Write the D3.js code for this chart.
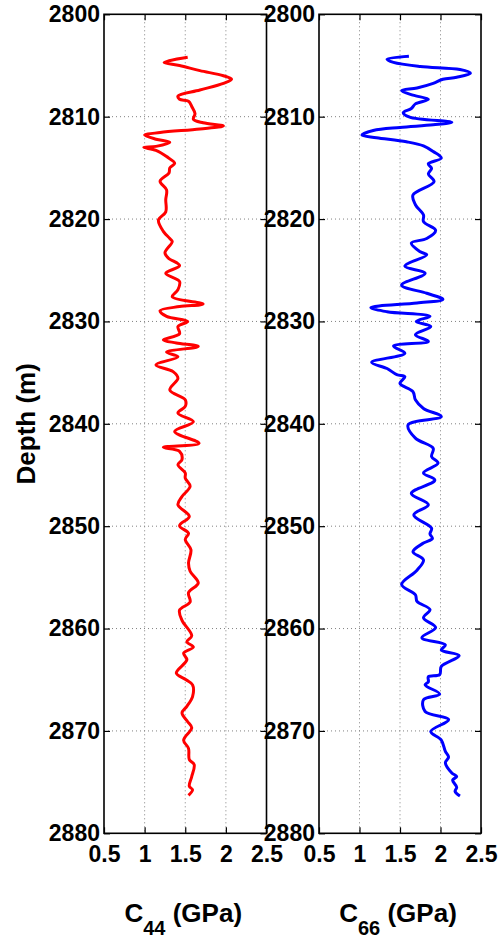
<!DOCTYPE html>
<html>
<head>
<meta charset="utf-8">
<script src="https://cdn.jsdelivr.net/npm/d3@7"></script>
<style>
  body { margin: 0; background: #fff; }
  text { font-family: "Liberation Sans", Arial, sans-serif; font-weight: bold; }
</style>
</head>
<body>
<div id="chart-area"></div>
<script>
// two log panels, depth goes down

let depth44 = [2804.2, 2804.7, 2805.0, 2805.5, 2806.0, 2806.35, 2806.75, 2807.4, 2808.0, 2808.3,
    2808.5, 2809.0, 2809.7, 2810.25, 2810.6, 2810.9, 2811.2, 2811.55, 2811.8, 2812.2,
    2812.5, 2812.9, 2813.0, 2813.3, 2813.9, 2814.55, 2815.0, 2815.5, 2816.3, 2817.15,
    2818.1, 2819.3, 2820.1, 2821.2, 2821.9, 2822.2, 2823.3, 2823.8, 2824.55, 2825.3,
    2826.1, 2826.9, 2827.6, 2828.3, 2828.55, 2828.95, 2829.5, 2830.0, 2830.5, 2831.2,
    2831.8, 2832.1, 2832.45, 2833.0, 2833.45, 2834.25, 2834.9, 2835.55, 2836.7, 2837.65,
    2838.3, 2838.95, 2839.8, 2840.75, 2841.9, 2842.3, 2842.7, 2843.5, 2844.0, 2844.8,
    2845.3, 2846.1, 2847.1, 2847.9, 2849.05, 2849.95, 2850.7, 2851.3, 2852.3, 2853.6,
    2854.4, 2855.55, 2856.5, 2857.4, 2858.2, 2859.2, 2860.7, 2861.3, 2861.8, 2862.4,
    2863.05, 2864.35, 2865.0, 2865.5, 2866.65, 2867.6, 2868.25, 2869.1, 2869.7, 2870.9,
    2871.7, 2872.8, 2873.3, 2874.45, 2875.4, 2875.75, 2876.3];
let c44 = [1.53, 1.24, 1.43, 1.68, 1.97, 2.07, 1.97, 1.68, 1.41, 1.43,
    1.54, 1.58, 1.62, 1.60, 1.72, 1.97, 1.68, 1.19, 1.00, 1.14,
    1.31, 1.14, 0.99, 1.14, 1.27, 1.37, 1.31, 1.30, 1.19, 1.27,
    1.26, 1.26, 1.17, 1.23, 1.31, 1.34, 1.25, 1.29, 1.43, 1.26,
    1.43, 1.41, 1.34, 1.72, 1.43, 1.19, 1.27, 1.53, 1.41, 1.43,
    1.23, 1.39, 1.66, 1.27, 1.41, 1.14, 1.35, 1.41, 1.31, 1.50,
    1.50, 1.41, 1.60, 1.37, 1.67, 1.23, 1.43, 1.46, 1.41, 1.50,
    1.50, 1.56, 1.46, 1.41, 1.55, 1.43, 1.54, 1.50, 1.57, 1.54,
    1.56, 1.66, 1.54, 1.56, 1.43, 1.46, 1.58, 1.52, 1.60, 1.48,
    1.52, 1.39, 1.51, 1.59, 1.59, 1.52, 1.46, 1.53, 1.58, 1.48,
    1.54, 1.55, 1.61, 1.58, 1.55, 1.59, 1.54];

let depth66 = [2804.1, 2804.4, 2804.7, 2805.1, 2805.4, 2805.75, 2806.15, 2806.35, 2806.75, 2807.2,
    2807.45, 2807.9, 2808.3, 2808.75, 2809.2, 2809.6, 2810.05, 2810.55, 2810.8, 2811.05,
    2811.35, 2811.8, 2812.05, 2812.45, 2812.85, 2813.4, 2814.05, 2814.6, 2815.05, 2815.6,
    2816.35, 2817.65, 2818.6, 2819.6, 2820.25, 2821.1, 2821.9, 2822.35, 2823.2, 2823.5,
    2824.6, 2825.3, 2826.45, 2827.25, 2827.85, 2828.2, 2828.65, 2829.05, 2829.5, 2830.0,
    2830.5, 2831.3, 2831.95, 2832.4, 2833.1, 2834.0, 2834.6, 2835.2, 2835.4, 2836.05,
    2836.85, 2837.65, 2838.5, 2839.3, 2840.1, 2841.4, 2842.4, 2843.2, 2843.85, 2844.8,
    2845.5, 2846.8, 2847.9, 2848.9, 2850.2, 2850.75, 2851.2, 2851.65, 2852.5, 2853.3,
    2854.3, 2855.7, 2856.7, 2857.35, 2858.15, 2858.95, 2859.9, 2860.9, 2861.6, 2862.1,
    2862.65, 2863.7, 2864.5, 2864.7, 2865.2, 2865.5, 2866.4, 2866.95, 2868.1, 2868.9,
    2870.05, 2870.9, 2872.0, 2872.55, 2873.1, 2874.1, 2874.45, 2874.8, 2875.5, 2875.9,
    2876.35];
let c66 = [1.61, 1.34, 1.42, 1.75, 2.24, 2.37, 2.20, 2.03, 1.91, 1.71,
    1.52, 1.66, 1.85, 1.69, 1.64, 1.54, 1.62, 2.14, 1.91, 1.50,
    1.17, 1.03, 1.21, 1.58, 1.79, 1.91, 2.01, 1.85, 1.89, 1.85,
    1.92, 1.66, 1.69, 1.79, 1.79, 1.94, 1.83, 1.64, 1.75, 1.83,
    1.56, 1.81, 1.52, 1.83, 2.03, 1.71, 1.14, 1.34, 1.87, 1.70,
    1.88, 1.69, 1.85, 1.42, 1.56, 1.15, 1.34, 1.46, 1.56, 1.50,
    1.66, 1.69, 1.79, 2.01, 1.60, 1.69, 1.91, 1.89, 1.97, 1.79,
    1.93, 1.64, 1.85, 1.67, 1.89, 1.87, 1.90, 1.79, 1.66, 1.79,
    1.71, 1.52, 1.69, 1.71, 1.87, 1.79, 1.94, 1.77, 2.06, 2.01,
    2.23, 2.01, 1.99, 1.85, 1.85, 1.81, 1.99, 1.79, 1.81, 2.10,
    1.88, 2.01, 2.06, 2.10, 2.06, 2.14, 2.20, 2.15, 2.20, 2.18,
    2.24];

let xTicks = [0.5, 1, 1.5, 2, 2.5];
let yTicks = [2800, 2810, 2820, 2830, 2840, 2850, 2860, 2870, 2880];

let panels = [
    {name: "44", depth: depth44, vals: c44, color: "#ff0000", left: 104, right: 266.5},
    {name: "66", depth: depth66, vals: c66, color: "#0000ff", left: 319, right: 481}
];

let svg = d3.select("#chart-area").append("svg")
    .attr("width", 501)
    .attr("height", 945);

let plotTop = 14.3, plotBottom = 833.3;

panels.forEach(function (p) {
    let w = p.right - p.left;
    let h = plotBottom - plotTop;

    let x = d3.scaleLinear()
        .domain([0.5, 2.5])
        .range([0, w]);

    let y = d3.scaleLinear()
        .domain([2800, 2880])
        .range([0, h]);

    let g = svg.append("g")
        .attr("transform", "translate(" + p.left + "," + plotTop + ")");

    // dotted grid
    g.selectAll(".vgrid")
        .data(xTicks.slice(1, -1))
        .enter().append("line")
        .attr("x1", d => x(d)).attr("x2", d => x(d))
        .attr("y1", 0).attr("y2", h)
        .attr("stroke", "#808080")
        .attr("stroke-width", 1)
        .attr("stroke-dasharray", "1,3");

    g.selectAll(".hgrid")
        .data(yTicks.slice(1, -1))
        .enter().append("line")
        .attr("x1", 0).attr("x2", w)
        .attr("y1", d => y(d)).attr("y2", d => y(d))
        .attr("stroke", "#808080")
        .attr("stroke-width", 1)
        .attr("stroke-dasharray", "1,3");

    // curve
    let line = d3.line()
        .x((d, i) => x(p.vals[i]))
        .y(d => y(d))
        .curve(d3.curveCatmullRom.alpha(0.5));

    g.append("path")
        .datum(p.depth)
        .attr("d", line)
        .attr("fill", "none")
        .attr("stroke", p.color)
        .attr("stroke-width", 3)
        .attr("stroke-linejoin", "round");

    // axes, ticks drawn inward like matlab
    let xAxis = d3.axisBottom(x).tickValues(xTicks).tickSize(-6).tickPadding(12)
        .tickFormat(d3.format("~g"));
    let yAxis = d3.axisLeft(y).tickValues(yTicks).tickSize(-6).tickPadding(4)
        .tickFormat(d3.format("d"));

    g.append("g")
        .attr("class", "x-axis")
        .attr("transform", "translate(0," + h + ")")
        .call(xAxis);
    g.append("g")
        .attr("class", "y-axis")
        .call(yAxis);
    g.append("g")
        .call(d3.axisTop(x).tickValues(xTicks).tickSize(-6).tickFormat(""));
    g.append("g")
        .attr("transform", "translate(" + w + ",0)")
        .call(d3.axisRight(y).tickValues(yTicks).tickSize(-6).tickFormat(""));

    g.selectAll(".domain").remove();
    g.selectAll(".tick line").attr("stroke", "#000").attr("stroke-width", 1.2);
    g.selectAll(".tick text")
        .attr("fill", "#000")
        .style("font-size", "23px")
        .style("font-family", "'Liberation Sans', Arial, sans-serif")
        .style("font-weight", "bold");

    g.append("rect")
        .attr("width", w).attr("height", h)
        .attr("fill", "none")
        .attr("stroke", "#000")
        .attr("stroke-width", 1.6);

    // x label with subscript
    let lab = svg.append("text")
        .attr("x", p.left + w / 2 - 2)
        .attr("y", 922)
        .attr("text-anchor", "middle")
        .style("font-size", "26px");
    lab.append("tspan").text("C");
    lab.append("tspan").attr("dy", 13).style("font-size", "20px").text(p.name);
    lab.append("tspan").attr("dy", -13).text(" (GPa)");
});

svg.append("text")
    .attr("transform", "translate(35," + (plotTop + plotBottom) / 2 + ") rotate(-90)")
    .attr("text-anchor", "middle")
    .style("font-size", "26px")
    .text("Depth (m)");
</script>
</body>
</html>
